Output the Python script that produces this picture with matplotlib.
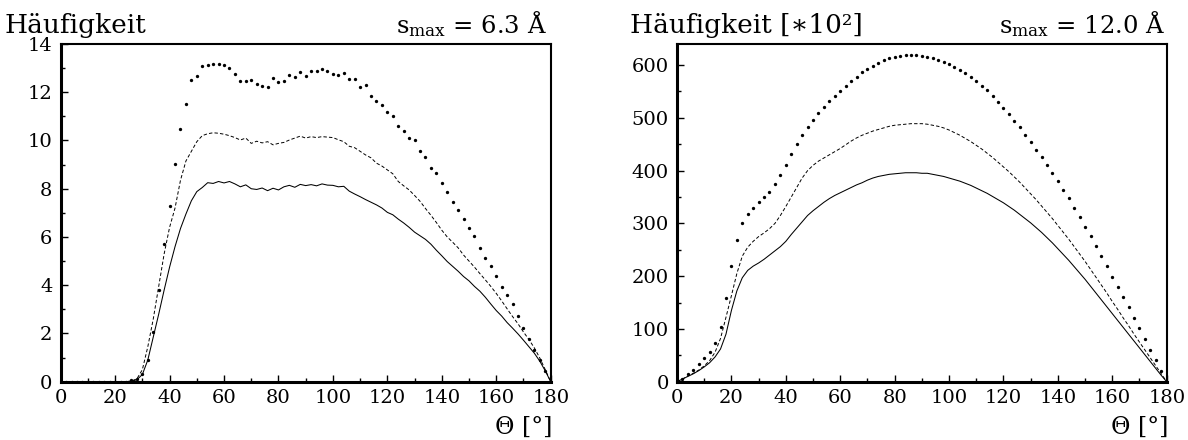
import numpy as np
import matplotlib
matplotlib.use("Agg")
import matplotlib.pyplot as plt
from matplotlib.ticker import MultipleLocator

plt.rcParams['font.family'] = 'DejaVu Serif'
plt.rcParams['mathtext.fontset'] = 'dejavuserif'

# scattering angle in degrees (2 degree bins)
theta = np.arange(0, 181, 2)

# s_max = 6.3 A
left_solid = [0] * 13 + [
    0.02, 0.08, 0.3, 0.9, 1.85, 2.8, 3.8, 4.75, 5.6, 6.35,
    6.95, 7.5, 7.88, 8.05, 8.25, 8.22, 8.3, 8.24, 8.3, 8.2,
    8.08, 8.16, 8.0, 7.97, 8.03, 7.92, 8.02, 7.95, 8.08, 8.14,
    8.06, 8.18, 8.13, 8.17, 8.12, 8.2, 8.15, 8.14, 8.08, 8.1,
    7.9, 7.78, 7.67, 7.55, 7.44, 7.33, 7.2, 7.02, 6.92, 6.74,
    6.58, 6.4, 6.2, 6.05, 5.9, 5.7, 5.45, 5.22, 4.98, 4.78,
    4.58, 4.36, 4.18, 3.95, 3.75, 3.5, 3.22, 2.95, 2.72, 2.45,
    2.22, 1.98, 1.72, 1.45, 1.18, 0.85, 0.45, 0]
left_dashed = [0] * 13 + [
    0.03, 0.12, 0.5, 1.45, 2.6, 3.95, 5.3, 6.4, 7.2, 8.35,
    9.15, 9.55, 9.95, 10.2, 10.28, 10.32, 10.3, 10.26, 10.2, 10.12,
    10.02, 10.1, 9.88, 9.97, 9.9, 9.95, 9.82, 9.88, 9.92, 10.02,
    10.1, 10.18, 10.1, 10.16, 10.12, 10.16, 10.14, 10.12, 10.03, 9.95,
    9.76, 9.7, 9.55, 9.4, 9.28, 9.06, 8.94, 8.78, 8.62, 8.3,
    8.12, 7.95, 7.72, 7.48, 7.18, 6.9, 6.6, 6.28, 6.0, 5.78,
    5.55, 5.25, 5.0, 4.75, 4.48, 4.22, 3.95, 3.66, 3.35, 3.02,
    2.7, 2.4, 2.06, 1.75, 1.4, 0.98, 0.5, 0]
left_dotted = [0] * 13 + [
    0.05, 0.1, 0.3, 0.9, 2.05, 3.8, 5.7, 7.3, 9.03, 10.48,
    11.53, 12.49, 12.67, 13.07, 13.12, 13.16, 13.19, 13.13, 13.0, 12.76,
    12.47, 12.48, 12.51, 12.34, 12.27, 12.22, 12.58, 12.43, 12.48, 12.7,
    12.64, 12.84, 12.69, 12.87, 12.87, 12.95, 12.89, 12.77, 12.73, 12.79,
    12.54, 12.54, 12.22, 12.29, 11.86, 11.64, 11.48, 11.18, 11.0, 10.61,
    10.38, 10.09, 10.02, 9.58, 9.33, 8.87, 8.64, 8.24, 7.86, 7.44,
    7.13, 6.73, 6.36, 6.06, 5.54, 5.11, 4.78, 4.39, 3.92, 3.58,
    3.22, 2.72, 2.22, 1.78, 1.33, 0.91, 0.43, 0]

# s_max = 12.0 A  (units of 10^2)
right_solid = [
    0, 5, 10, 15, 21, 28, 36, 47, 62, 90,
    135, 172, 197, 211, 219, 225, 232, 240, 248, 256,
    266, 279, 291, 303, 315, 324, 332, 340, 347, 353,
    358, 363, 368, 373, 377, 382, 386, 389, 391, 393,
    394, 395, 396, 396, 396, 395, 395, 393, 391, 389,
    386, 383, 380, 376, 372, 367, 362, 357, 351, 345,
    339, 332, 325, 317, 309, 301, 292, 283, 273, 263,
    252, 241, 230, 218, 206, 194, 181, 168, 155, 142,
    129, 116, 103, 90, 77, 64, 51, 38, 25, 12, 0]
right_dashed = [
    0, 5, 11, 16, 22, 30, 40, 56, 82, 122,
    163, 205, 238, 255, 266, 275, 282, 290, 300, 315,
    332, 350, 368, 386, 400, 410, 418, 424, 430, 436,
    442, 449, 456, 462, 467, 471, 475, 478, 481, 484,
    486, 487, 488, 489, 489, 489, 488, 486, 484, 481,
    477, 472, 467, 461, 455, 448, 441, 433, 425, 416,
    407, 398, 388, 378, 367, 356, 345, 333, 321, 309,
    296, 283, 270, 256, 242, 228, 213, 198, 183, 168,
    152, 137, 121, 106, 90, 75, 60, 45, 30, 15, 0]
right_dotted = [
    0, 6, 15, 23, 33, 44, 56, 74, 104, 158,
    220, 269, 300, 318, 330, 340, 350, 360, 375, 391,
    411, 431, 450, 467, 482, 496, 509, 520, 532, 542,
    551, 561, 570, 578, 586, 593, 599, 604, 609, 613,
    616, 618, 619, 620, 619, 618, 616, 613, 610, 606,
    602, 597, 591, 585, 578, 570, 561, 552, 542, 531,
    519, 507, 494, 482, 468, 454, 440, 426, 411, 396,
    380, 364, 348, 330, 312, 294, 276, 258, 238, 219,
    199, 180, 160, 141, 121, 101, 81, 60, 41, 20, 0]

W, H = 1188, 440
fig = plt.figure(figsize=(W / 100, H / 100), dpi=100)
axL = fig.add_axes([60.7 / W, 58.3 / H, 490 / W, 337.7 / H])
axR = fig.add_axes([677 / W, 58.3 / H, 489.7 / W, 337.7 / H])


def draw(ax, solid, dashed, dotted, ymax, ymaj, ymin):
    ax.plot(theta, solid, color='black', lw=0.75)
    ax.plot(theta, dashed, color='black', lw=0.7, ls=(0, (3.5, 2.2)))
    ax.plot(theta, dotted, ls='none', marker='o', ms=2.4, color='black',
            markeredgewidth=0)
    ax.set_xlim(0, 180)
    ax.set_ylim(0, ymax)
    ax.xaxis.set_major_locator(MultipleLocator(20))
    ax.xaxis.set_minor_locator(MultipleLocator(10))
    ax.yaxis.set_major_locator(MultipleLocator(ymaj))
    ax.yaxis.set_minor_locator(MultipleLocator(ymin))
    ax.tick_params(which='both', direction='in', top=False, right=False,
                   labelsize=14, width=1, color='black')
    ax.tick_params(which='major', length=5)
    ax.tick_params(which='minor', length=3)
    ax.tick_params(axis='x', pad=5)
    ax.tick_params(axis='y', pad=6)
    for side in ('left', 'bottom'):
        ax.spines[side].set_linewidth(2.2)
    for side in ('top', 'right'):
        ax.spines[side].set_linewidth(1.5)


draw(axL, left_solid, left_dashed, left_dotted, 14, 2, 1)
draw(axR, right_solid, right_dashed, right_dotted, 640, 100, 50)

yb = 1 - 33 / H
fig.text(5 / W, yb, 'Häufigkeit', fontsize=19, ha='left', va='baseline')
fig.text(547 / W, yb, r'$\mathrm{s}_{\mathrm{max}}$ = 6.3 Å', fontsize=17.5,
         ha='right', va='baseline')
fig.text(630 / W, yb, 'Häufigkeit [∗10²]', fontsize=19, ha='left',
         va='baseline')
fig.text(1165 / W, yb, r'$\mathrm{s}_{\mathrm{max}}$ = 12.0 Å', fontsize=17.5,
         ha='right', va='baseline')

yt = 1 - 427 / H
fig.text(552 / W, yt, 'Θ [°]', fontsize=17, ha='right', va='center')
fig.text(1168 / W, yt, 'Θ [°]', fontsize=17, ha='right', va='center')

fig.savefig('out.png', dpi=100)
